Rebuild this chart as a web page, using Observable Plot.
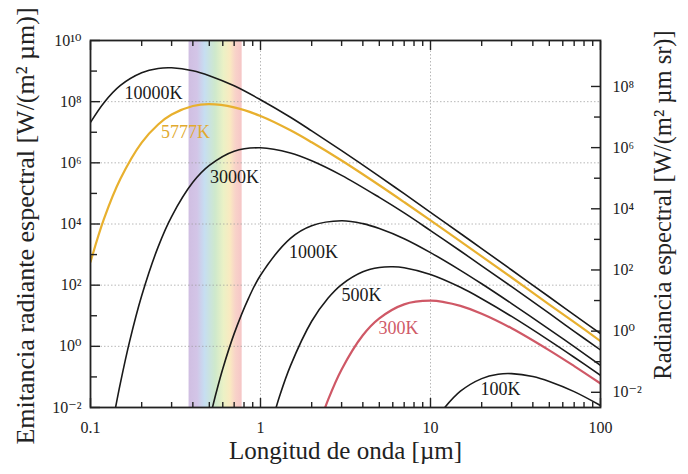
<!DOCTYPE html>
<html><head><meta charset="utf-8">
<script src="https://cdn.jsdelivr.net/npm/d3@7"></script>
<script src="https://cdn.jsdelivr.net/npm/@observablehq/plot@0.6"></script>
<style>body{margin:0;background:#fff}</style>
</head><body><div id="chart"></div>
<script>
// ---- data (wavelength µm, emittance W/(m² µm)) ----
const wl10000 = [0.1,0.12,0.15,0.2,0.25,0.3,0.4,0.5,0.7,1,1.5,2,3,5,7,10,15,20,30,50,70,100];
const m10000  = [2.1e7,9.3e7,3.4e8,8.8e8,1.22e9,1.28e9,1.03e9,7.1e8,3.3e8,1.16e8,3.1e7,1.11e7,2.5e6,3.6e5,9.8e4,2.4e4,4.9e3,1.57e3,313,41,10.7,2.6];
const wl5777  = [0.1,0.12,0.15,0.2,0.25,0.3,0.4,0.5,0.7,1,1.5,2,3,5,7,10,15,20,30,50,70,100];
const m5777   = [570,1.46e4,3.0e5,4.6e6,1.8e7,3.8e7,7.2e7,8.3e7,6.5e7,3.4e7,1.16e7,4.7e6,1.19e6,1.85e5,5.2e4,1.32e4,2.7e3,880,178,23,6.2,1.48];
const wl3000  = [0.13,0.14,0.15,0.17,0.2,0.25,0.3,0.4,0.5,0.7,1,1.5,2,3,5,7,10,15,20,30,50,70,100];
const m3000   = [9.6e-4,9.2e-3,0.064,1.48,45,1.79e3,1.75e4,2.3e5,8.2e5,2.4e6,3.1e6,2.1e6,1.17e6,3.9e5,7.4e4,2.3e4,6.1e3,1.31e3,430,89,11.9,3.1,0.76];
const wl1000  = [0.5,0.55,0.6,0.7,0.85,1,1.5,2,3,4,5,7,10,15,20,30,50,70,100];
const m1000   = [3.8e-3,0.032,0.185,2.6,37,211,3.4e3,8.8e3,1.28e4,1.03e4,7.1e3,3.3e3,1.16e3,306,111,25,3.6,0.98,0.24];
const wl500   = [1.15,1.3,1.5,2,2.5,3,4,5,6,7,10,15,20,30,50,70,100];
const m500    = [2.5e-3,0.025,0.23,6.6,38,105,275,380,400,372,223,85,36,9.5,1.54,0.44,0.112];
const wl300   = [2.2,2.5,3,4,5,7,10,12,15,20,30,50,70,100];
const m300    = [2.5e-3,0.018,0.175,2.3,8.2,23.6,31,28,21,11.7,3.9,0.74,0.226,0.061];
const wl100   = [11,12,15,20,25,30,40,50,70,100];
const m100    = [4.8e-3,9.3e-3,0.034,0.088,0.122,0.128,0.103,0.071,0.033,0.0116];

const seriesNames = ["10000K","5777K","3000K","1000K","500K","300K","100K"];
const seriesWl = [wl10000,wl5777,wl3000,wl1000,wl500,wl300,wl100];
const seriesM  = [m10000,m5777,m3000,m1000,m500,m300,m100];

// curve labels (text, wavelength, emittance)
const labelText = ["10000K","5777K","3000K","1000K","500K","300K","100K"];
const labelX    = [0.235,0.362,0.703,2.05,3.93,6.49,25.8];
const labelY    = [1.85e8,9.8e6,3.3e5,1.17e3,46,3.9,0.039];

// visible band (µm)
const visibleBand = [{from:0.38, to:0.78}];

// axis ticks
const xMajor = [0.1,1,10,100];
const xTickLabels = ["0.1","1","10","100"];
const yMajor = [1e-2,1e0,1e2,1e4,1e6,1e8,1e10];
const yMinor = [1e-1,1e1,1e3,1e5,1e7,1e9];
const radMajor = [1e-2,1e0,1e2,1e4,1e6,1e8];
const radMinor = [1e-1,1e1,1e3,1e5,1e7];
const gridYVals = [1e0,1e2,1e4,1e6,1e8];
const gridXVals = [1,10];

// ---- styles ----
const colorOf = {"10000K":"#1a1a1a","5777K":"#e8b02e","3000K":"#1a1a1a","1000K":"#1a1a1a","500K":"#1a1a1a","300K":"#cf5866","100K":"#1a1a1a"};
const labelColorOf = {"10000K":"#1a1a1a","5777K":"#e2aa2e","3000K":"#1a1a1a","1000K":"#1a1a1a","500K":"#1a1a1a","300K":"#d05a68","100K":"#1a1a1a"};
const widthOf = {"10000K":1.6,"5777K":2.2,"3000K":1.6,"1000K":1.6,"500K":1.6,"300K":2.2,"100K":1.6};

const xMinor = [];
for (const dec of [0.1,1,10]) for (let k=2;k<=9;k++) xMinor.push(+(k*dec).toPrecision(3));

const supMap = {"0":"⁰","1":"¹","2":"²","3":"³","4":"⁴","5":"⁵","6":"⁶","7":"⁷","8":"⁸","9":"⁹","-":"⁻"};
const pow10 = v => "10" + String(Math.round(Math.log10(v))).split("").map(c=>supMap[c]).join("");

const rows = seriesNames.flatMap((n,i)=>seriesWl[i].map((w,j)=>({T:n, wl:w, m:seriesM[i][j]})));
const labels = labelText.map((t,i)=>({t, x:labelX[i], y:labelY[i]}));

const FONT = "'Liberation Serif', 'DejaVu Serif', serif";
const INK = "#222";
const blank = () => "";

const plot = Plot.plot({
  width: 688, height: 474,
  marginLeft: 90, marginRight: 88, marginTop: 40, marginBottom: 67,
  style: {fontFamily: FONT, fontSize: "16px", background: "#fff", color: INK},
  x: {type: "log", domain: [0.1, 100]},
  y: {type: "log", domain: [1e-2, 1e10]},
  marks: [
    Plot.rect(visibleBand, {x1: "from", x2: "to", y1: () => 1e-2, y2: () => 1e10, fill: "url(#spec)", fillOpacity: 0.85}),
    Plot.gridY(gridYVals, {stroke: "#9a9a9a", strokeOpacity: 0.7, strokeDasharray: "1.5,2"}),
    Plot.gridX(gridXVals, {stroke: "#9a9a9a", strokeOpacity: 0.7, strokeDasharray: "1.5,2"}),
    ...seriesNames.map(n => Plot.line(rows.filter(r => r.T === n), {
      x: "wl", y: "m", stroke: colorOf[n], strokeWidth: widthOf[n], curve: "catmull-rom", clip: true
    })),
    ...labels.map(l => Plot.text([l], {x: "x", y: "y", text: "t", fill: labelColorOf[l.t], fontSize: 18, textAnchor: "middle"})),
    // tick labels
    Plot.axisY(yMajor, {anchor: "left", tickSize: 0, tickPadding: 9, tickFormat: pow10, label: null, fontSize: 16, fill: INK}),
    Plot.axisY(radMajor.map(r => r * Math.PI), {anchor: "right", tickSize: 0, tickPadding: 12, tickFormat: d => pow10(d / Math.PI), label: null, fontSize: 16, fill: INK}),
    Plot.axisX(xMajor, {anchor: "bottom", tickSize: 0, tickPadding: 14, tickFormat: d => xTickLabels[xMajor.indexOf(d)], label: null, fontSize: 16, fill: INK}),
    // inward ticks
    Plot.axisY(yMajor, {anchor: "left", tickSize: 10, dx: 10, tickFormat: blank, label: null, stroke: INK, strokeWidth: 1.4}),
    Plot.axisY(yMinor, {anchor: "left", tickSize: 7, dx: 7, tickFormat: blank, label: null, stroke: INK, strokeWidth: 1.4}),
    Plot.axisY(radMajor.map(r => r * Math.PI), {anchor: "right", tickSize: 10, dx: -10, tickFormat: blank, label: null, stroke: INK, strokeWidth: 1.4}),
    Plot.axisY(radMinor.map(r => r * Math.PI), {anchor: "right", tickSize: 7, dx: -7, tickFormat: blank, label: null, stroke: INK, strokeWidth: 1.4}),
    Plot.axisX(xMajor, {anchor: "bottom", tickSize: 9, dy: -9, tickFormat: blank, label: null, stroke: INK, strokeWidth: 1.4}),
    Plot.axisX(xMinor, {anchor: "bottom", tickSize: 5, dy: -5, tickFormat: blank, label: null, stroke: INK, strokeWidth: 1.4}),
    Plot.axisX(xMajor, {anchor: "top", tickSize: 9, dy: 9, tickFormat: blank, label: null, stroke: INK, strokeWidth: 1.4}),
    Plot.axisX(xMinor, {anchor: "top", tickSize: 5, dy: 5, tickFormat: blank, label: null, stroke: INK, strokeWidth: 1.4}),
    Plot.frame({stroke: INK, strokeWidth: 1.8}),
    // axis titles
    Plot.text(["Longitud de onda [µm]"], {frameAnchor: "bottom", dy: 51, fontSize: 25, fill: INK, textAnchor: "middle"}),
    Plot.text(["Emitancia radiante espectral [W/(m² µm)]"], {frameAnchor: "left", dx: -65, dy: 2, rotate: -90, fontSize: 26, fill: INK, textAnchor: "middle"}),
    Plot.text(["Radiancia espectral [W/(m² µm sr)]"], {frameAnchor: "right", dx: 63, dy: -19, rotate: -90, fontSize: 24.5, fill: INK, textAnchor: "middle"})
  ]
});

// gradient for the visible spectrum band
const defs = d3.select(plot).insert("defs", ":first-child");
const grad = defs.append("linearGradient").attr("id", "spec").attr("x1", "0").attr("x2", "1").attr("y1", "0").attr("y2", "0");
[[0, "#c8b3dd"], [0.16, "#cbbbe3"], [0.3, "#bcd8ef"], [0.5, "#c6e5c3"], [0.66, "#e8efbb"], [0.78, "#f8e6b6"], [0.88, "#f7cbbf"], [1, "#f4bcbd"]]
  .forEach(([o, c]) => grad.append("stop").attr("offset", o).attr("stop-color", c));

document.getElementById("chart").appendChild(plot);
</script>
</body></html>
